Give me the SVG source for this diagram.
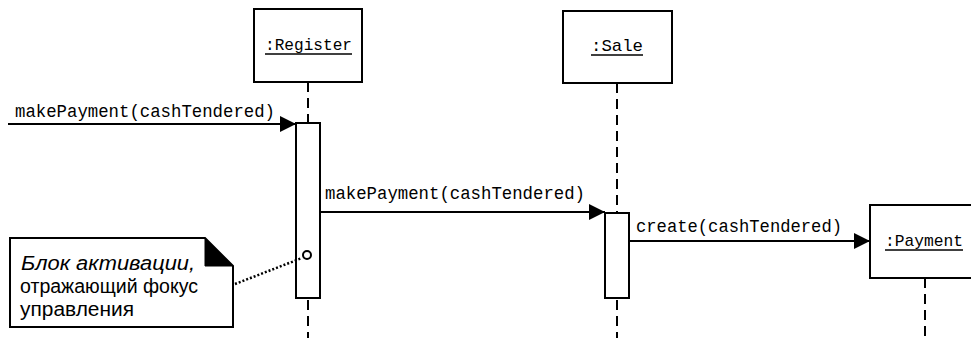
<svg xmlns="http://www.w3.org/2000/svg" width="971" height="338" viewBox="0 0 971 338">
<style>
.box{fill:#fff;stroke:#000;stroke-width:2}
.act{fill:#fff;stroke:#000;stroke-width:2}
.life{stroke:#000;stroke-width:2;stroke-dasharray:10 6;fill:none}
.msg{stroke:#000;stroke-width:2;fill:none;marker-end:url(#arr)}
.mono{font-family:"Liberation Mono","Courier New",monospace;font-size:18px;fill:#000}
.name{font-family:"Liberation Mono","Courier New",monospace;font-size:17px;fill:#000}
.ul{stroke:#000;stroke-width:1.3}
.note{font-family:"Liberation Sans",Arial,sans-serif;font-size:20px;fill:#000}
</style>
<defs>
<marker id="arr" markerUnits="userSpaceOnUse" markerWidth="16" markerHeight="16" refX="16" refY="8" orient="auto">
<path d="M0,0 L16,8 L0,16 Z" fill="#000"/>
</marker>
</defs>
<rect width="971" height="338" fill="#fff"/>

<g id="register">
<rect class="box" x="254" y="9" width="108" height="73"/>
<text class="name" x="265" y="50" textLength="87" lengthAdjust="spacingAndGlyphs">:Register</text>
<line class="ul" x1="265" y1="54" x2="352" y2="54"/>
<line class="life" x1="308" y1="82" x2="308" y2="123"/>
<rect class="act" x="296" y="123" width="24" height="175"/>
<line class="life" x1="308" y1="300" x2="308" y2="338"/>
<circle cx="307" cy="255" r="4" fill="#fff" stroke="#000" stroke-width="2"/>
</g>

<g id="sale">
<rect class="box" x="563" y="11" width="109" height="72"/>
<text class="name" x="591" y="51" textLength="52" lengthAdjust="spacingAndGlyphs">:Sale</text>
<line class="ul" x1="591" y1="55" x2="643" y2="55"/>
<line class="life" x1="617" y1="83" x2="617" y2="213"/>
<rect class="act" x="605" y="213" width="24" height="85"/>
<line class="life" x1="617" y1="300" x2="617" y2="338"/>
</g>

<g id="payment">
<rect class="box" x="870" y="205" width="110" height="73"/>
<text class="name" x="885" y="246" textLength="78" lengthAdjust="spacingAndGlyphs">:Payment</text>
<line class="ul" x1="885" y1="250" x2="963" y2="250"/>
<line class="life" x1="925" y1="278" x2="925" y2="338"/>
</g>

<g id="note">
<path d="M10,238 H205 L233,266 V327 H10 Z" fill="#fff" stroke="#000" stroke-width="2"/>
<path d="M205,238 L233,266 H205 Z" fill="#000" stroke="#000" stroke-width="1"/>
<text class="note" x="21" y="270" font-style="italic" textLength="174" lengthAdjust="spacingAndGlyphs">Блок активации,</text>
<text class="note" x="20" y="293" textLength="178" lengthAdjust="spacingAndGlyphs">отражающий фокус</text>
<text class="note" x="20" y="316" textLength="114" lengthAdjust="spacingAndGlyphs">управления</text>
</g>

<g id="connectors">
<line class="msg" x1="8" y1="124" x2="296" y2="124"/>
<text class="mono" x="15" y="117" textLength="260" lengthAdjust="spacingAndGlyphs">makePayment(cashTendered)</text>
<line class="msg" x1="320" y1="212" x2="605" y2="212"/>
<text class="mono" x="325" y="199" textLength="260" lengthAdjust="spacingAndGlyphs">makePayment(cashTendered)</text>
<line class="msg" x1="629" y1="241" x2="870" y2="241"/>
<text class="mono" x="636" y="232" textLength="206" lengthAdjust="spacingAndGlyphs">create(cashTendered)</text>
<line x1="235" y1="284" x2="302" y2="258" stroke="#000" stroke-width="2.5" stroke-dasharray="2 2"/>
</g>
</svg>
